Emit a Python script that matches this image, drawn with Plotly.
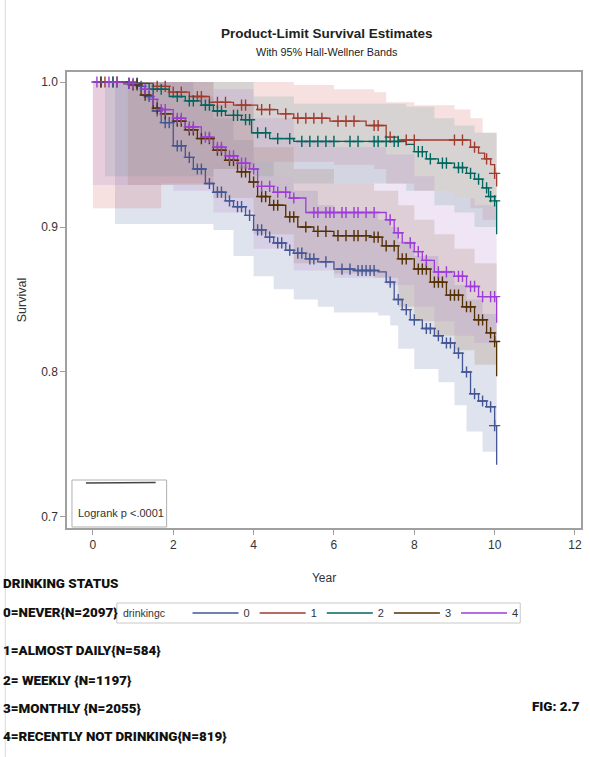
import numpy as np
import plotly.graph_objects as go

# ---------------- data ----------------
groups = ["0", "1", "2", "3", "4"]
line_colors = ["#445694", "#A23A2E", "#01665E", "#543005", "#9D3CDB"]
band_colors = ["rgba(111,126,179,0.22)", "rgba(208,91,91,0.19)", "rgba(102,165,160,0.22)",
               "rgba(169,134,91,0.24)", "rgba(182,137,205,0.22)"]

t0 = [0, 1.1, 1.3, 1.5, 1.7, 2.0, 2.3, 2.5, 2.8, 3.0, 3.3, 3.5, 3.8, 4.0, 4.3, 4.5, 4.8, 5.0, 5.3, 5.6, 6.0,
      6.5, 7.1, 7.3, 7.5, 7.7, 7.9, 8.2, 8.5, 8.7, 9.0, 9.2, 9.4, 9.6, 9.8, 10.0, 10.05]
s0 = [1.0, 0.997, 0.99, 0.98, 0.972, 0.956, 0.948, 0.940, 0.930, 0.924, 0.918, 0.914, 0.908, 0.898, 0.893,
      0.889, 0.884, 0.882, 0.878, 0.876, 0.871, 0.870, 0.869, 0.862, 0.850, 0.843, 0.836, 0.830, 0.825, 0.820,
      0.813, 0.800, 0.785, 0.780, 0.776, 0.763, 0.736]
t1 = [0, 0.8, 1.5, 1.9, 2.4, 2.9, 3.5, 4.1, 4.6, 5.0, 5.9, 6.8, 7.3, 7.6, 9.4, 9.6, 9.75, 9.9, 10.0, 10.05]
s1 = [1.0, 0.999, 0.997, 0.993, 0.99, 0.986, 0.984, 0.981, 0.978, 0.975, 0.973, 0.970, 0.962, 0.960, 0.955,
      0.951, 0.947, 0.943, 0.937, 0.928]
t2 = [0, 0.8, 1.4, 1.9, 2.3, 2.7, 3.0, 3.3, 3.7, 3.95, 4.4, 5.0, 7.8, 8.0, 8.3, 8.6, 9.0, 9.3, 9.5, 9.7, 9.85,
      10.0, 10.05]
s2 = [1.0, 0.999, 0.995, 0.990, 0.987, 0.984, 0.980, 0.977, 0.974, 0.965, 0.961, 0.959, 0.957, 0.952, 0.947,
      0.944, 0.941, 0.937, 0.933, 0.927, 0.921, 0.918, 0.895]
t3 = [0, 0.9, 1.2, 1.5, 1.7, 2.0, 2.3, 2.6, 3.0, 3.3, 3.6, 3.9, 4.1, 4.4, 4.8, 5.1, 5.5, 6.0, 6.9, 7.2, 7.6,
      8.0, 8.4, 8.8, 9.2, 9.5, 9.8, 10.0, 10.05]
s3 = [1.0, 0.998, 0.991, 0.982, 0.978, 0.973, 0.967, 0.961, 0.953, 0.946, 0.938, 0.931, 0.921, 0.915, 0.907,
      0.900, 0.897, 0.894, 0.893, 0.887, 0.878, 0.871, 0.862, 0.853, 0.845, 0.836, 0.827, 0.821, 0.797]
t4 = [0, 0.8, 1.2, 1.4, 1.6, 2.0, 2.3, 2.7, 3.0, 3.3, 3.6, 3.9, 4.1, 4.5, 4.9, 5.3, 7.3, 7.5, 7.7, 8.0, 8.2,
      8.5, 9.0, 9.3, 9.6, 10.05]
s4 = [1.0, 0.999, 0.995, 0.988, 0.981, 0.975, 0.969, 0.962, 0.955, 0.949, 0.944, 0.940, 0.928, 0.924, 0.920,
      0.910, 0.905, 0.896, 0.889, 0.883, 0.877, 0.869, 0.866, 0.859, 0.852, 0.834]

# censored observation times
c0 = [1.2, 1.4, 1.6, 1.8, 1.9, 2.1, 2.2, 2.4, 2.6, 2.7, 2.9, 3.1, 3.2, 3.4, 3.6, 3.7, 3.9, 4.1, 4.2, 4.4, 4.6,
      4.7, 4.9, 5.1, 5.2, 5.4, 5.5, 5.8, 6.2, 6.4, 6.6, 6.7, 6.8, 6.9, 7.0, 7.4, 7.6, 7.8, 8.0, 8.3, 8.4, 8.6,
      8.8, 8.9, 9.1, 9.3, 9.5, 9.7, 9.9, 10.0]
c1 = [0.3, 0.5, 0.9, 1.1, 1.6, 1.8, 2.0, 2.2, 2.6, 2.7, 3.1, 3.3, 3.7, 3.8, 4.2, 4.4, 4.8, 5.1, 5.3, 5.5, 5.7,
      6.1, 6.3, 6.5, 7.0, 7.1, 7.4, 7.8, 8.0, 9.0, 9.2, 9.5, 9.8, 10.0]
c2 = [0.2, 0.5, 0.9, 1.1, 1.5, 1.7, 2.1, 2.4, 2.5, 2.8, 2.9, 3.1, 3.2, 3.5, 3.6, 3.8, 3.9, 4.1, 4.3, 4.6, 4.9,
      5.2, 5.4, 5.6, 5.8, 6.0, 6.4, 6.6, 7.0, 7.1, 7.3, 7.5, 7.6, 8.1, 8.2, 8.4, 8.7, 8.8, 9.1, 9.2, 9.4, 9.6,
      9.8, 9.9, 10.0]
c3 = [0.2, 0.6, 1.0, 1.1, 1.3, 1.6, 1.8, 2.1, 2.2, 2.4, 2.5, 2.7, 2.9, 3.1, 3.2, 3.4, 3.5, 3.7, 3.8, 4.0, 4.2,
      4.3, 4.5, 4.6, 4.9, 5.0, 5.3, 5.6, 5.8, 6.1, 6.3, 6.5, 6.6, 6.8, 7.0, 7.1, 7.3, 7.5, 7.7, 7.8, 8.1, 8.2,
      8.3, 8.5, 8.6, 8.7, 8.9, 9.0, 9.1, 9.3, 9.4, 9.6, 9.7, 9.9, 10.0]
c4 = [0.1, 0.4, 0.6, 0.9, 1.0, 1.3, 1.5, 1.7, 1.8, 2.1, 2.2, 2.4, 2.5, 2.8, 2.9, 3.1, 3.2, 3.4, 3.5, 3.7, 3.8,
      4.0, 4.2, 4.4, 4.6, 4.8, 5.0, 5.5, 5.6, 5.8, 5.9, 6.0, 6.2, 6.3, 6.5, 6.6, 6.8, 7.0, 7.4, 7.6, 7.9, 8.1,
      8.3, 8.6, 8.8, 9.1, 9.2, 9.4, 9.5, 9.7, 9.9, 10.0]

# Hall-Wellner band times / lower / upper
bt0 = [0.55, 1.5, 2.0, 2.5, 3.0, 3.5, 4.0, 4.5, 5.0, 5.6, 6.0, 7.1, 7.4, 7.6, 8.0, 8.6, 9.0, 9.3, 9.7, 10.05]
lo0 = [0.902, 0.902, 0.902, 0.902, 0.898, 0.880, 0.866, 0.857, 0.850, 0.845, 0.841, 0.839, 0.832, 0.816, 0.802,
       0.793, 0.777, 0.759, 0.745, 0.726]
hi0 = [1.0, 1.0, 1.0, 0.99, 0.975, 0.96, 0.945, 0.935, 0.925, 0.915, 0.91, 0.905, 0.9, 0.89, 0.88, 0.87, 0.86,
       0.85, 0.84, 0.83]
bt1 = [0.0, 1.7, 3.0, 4.0, 5.0, 6.0, 7.0, 7.3, 8.0, 9.0, 9.4, 9.7, 10.05]
lo1 = [0.913, 0.93, 0.94, 0.945, 0.945, 0.943, 0.94, 0.93, 0.925, 0.92, 0.913, 0.905, 0.895]
hi1 = [1.0, 1.0, 1.0, 1.0, 0.998, 0.995, 0.993, 0.986, 0.984, 0.981, 0.975, 0.965, 0.955]
bt2 = [0.3, 1.5, 3.0, 4.0, 5.0, 7.8, 8.5, 9.0, 9.5, 10.05]
lo2 = [0.935, 0.935, 0.94, 0.935, 0.93, 0.925, 0.915, 0.91, 0.9, 0.885]
hi2 = [1.0, 1.0, 1.0, 0.99, 0.985, 0.983, 0.975, 0.97, 0.965, 0.955]
bt3 = [0.87, 1.5, 2.0, 3.0, 4.0, 5.0, 6.0, 7.0, 7.6, 8.0, 8.5, 9.0, 9.5, 10.05]
lo3 = [0.929, 0.929, 0.929, 0.92, 0.895, 0.875, 0.868, 0.865, 0.845, 0.835, 0.825, 0.815, 0.805, 0.795]
hi3 = [1.0, 1.0, 1.0, 0.985, 0.955, 0.94, 0.93, 0.925, 0.915, 0.905, 0.895, 0.885, 0.875, 0.855]
bt4 = [0.0, 1.5, 2.0, 3.0, 4.0, 5.0, 6.0, 7.3, 8.0, 8.5, 9.0, 9.5, 10.05]
lo4 = [0.929, 0.929, 0.925, 0.91, 0.885, 0.87, 0.865, 0.86, 0.845, 0.835, 0.825, 0.82, 0.81]
hi4 = [1.0, 1.0, 1.0, 0.995, 0.975, 0.96, 0.955, 0.95, 0.935, 0.925, 0.92, 0.915, 0.905]

x_ticks = [0, 2, 4, 6, 8, 10, 12]
y_ticks = [0.7, 0.8, 0.9, 1.0]

legend_notes = ["DRINKING STATUS", "0=NEVER{N=2097}", "1=ALMOST DAILY{N=584}", "2= WEEKLY {N=1197}",
                "3=MONTHLY {N=2055}", "4=RECENTLY NOT DRINKING{N=819}"]

T = [t0, t1, t2, t3, t4]
S = [s0, s1, s2, s3, s4]
C = [c0, c1, c2, c3, c4]
BT = [bt0, bt1, bt2, bt3, bt4]
LO = [lo0, lo1, lo2, lo3, lo4]
HI = [hi0, hi1, hi2, hi3, hi4]

# ---------------- figure ----------------
W, H = 590, 757
L, R, TOP, BOT = 67, 583, 72, 528


def px(x):
    return (x - L) / (R - L)


def py(y):
    return (BOT - y) / (BOT - TOP)


fig = go.Figure()

for i in range(5):
    fig.add_trace(go.Scatter(x=BT[i], y=LO[i], mode="lines", line=dict(width=0, shape="hv"),
                             showlegend=False, hoverinfo="skip"))
    fig.add_trace(go.Scatter(x=BT[i], y=HI[i], mode="lines", line=dict(width=0, shape="hv"),
                             fill="tonexty", fillcolor=band_colors[i], showlegend=False, hoverinfo="skip"))

for i in range(5):
    fig.add_trace(go.Scatter(x=T[i], y=S[i], mode="lines", name=groups[i],
                             line=dict(color=line_colors[i], width=1.3, shape="hv")))

for i in range(5):
    tt = np.array(T[i])
    ss = np.array(S[i])
    idx = np.searchsorted(tt, np.array(C[i]), side="right") - 1
    fig.add_trace(go.Scatter(x=C[i], y=ss[idx], mode="markers", showlegend=False,
                             marker=dict(symbol="cross-thin", size=8,
                                         line=dict(width=1.4, color=line_colors[i]))))

axis_common = dict(showline=True, linecolor="#a0a0a0", linewidth=1.5, mirror=True, ticks="outside",
                   ticklen=5, tickcolor="#a0a0a0", tickwidth=1, showgrid=False, zeroline=False,
                   tickfont=dict(family="Liberation Sans, Arial", size=12, color="#333333"))

fig.update_xaxes(range=[-0.645, 12.15], tickvals=x_ticks, ticktext=[str(v) for v in x_ticks],
                 title=dict(text="Year", font=dict(family="Liberation Sans, Arial", size=12, color="#333333"),
                            standoff=22), **axis_common)
fig.update_yaxes(range=[0.6924, 1.0069], tickvals=y_ticks, ticktext=[f"{v:.1f}" for v in y_ticks],
                 title=dict(text="Survival", font=dict(family="Liberation Sans, Arial", size=12.5, color="#333333"),
                            standoff=12), **axis_common)

note_font = dict(family="Roboto, Liberation Sans, Arial", size=13.4, color="#111111", weight=900)
ann = []


def add_text(text, x, y, font, xanchor="center"):
    ann.append(dict(text=text, x=px(x), y=py(y), xref="paper", yref="paper", xanchor=xanchor,
                    yanchor="middle", showarrow=False, font=font))


add_text("<b>Product-Limit Survival Estimates</b>", 328, 33,
         dict(family="Liberation Sans, Arial", size=13.5, color="#222222"))
add_text("With 95% Hall-Wellner Bands", 328, 52, dict(family="Liberation Sans, Arial", size=10.8, color="#222222"))
add_text("Logrank p <.0001", 76, 513, dict(family="Liberation Sans, Arial", size=11, color="#333333"), "left")
add_text("drinkingc", 121, 613, dict(family="Liberation Sans, Arial", size=10.5, color="#333333"), "left")

note_y = [583, 612, 650, 680, 708, 736]
for txt, yy in zip(legend_notes, note_y):
    add_text(txt, 1, yy, note_font, "left")
add_text("FIG: 2.7", 584, 706, note_font, "right")

shapes = [
    dict(type="rect", xref="paper", yref="paper", x0=px(72), x1=px(167), y0=py(527), y1=py(480),
         line=dict(color="#b0b0b0", width=1), fillcolor="rgba(255,255,255,0.9)"),
    dict(type="line", xref="paper", yref="paper", x0=px(86), x1=px(156), y0=py(483), y1=py(482.5),
         line=dict(color="#444444", width=1.5)),
    dict(type="line", xref="paper", yref="paper", x0=px(5), x1=px(5), y0=py(0), y1=py(757),
         line=dict(color="#d8d8d8", width=1)),
    dict(type="rect", xref="paper", yref="paper", x0=px(117), x1=px(522), y0=py(623), y1=py(603),
         line=dict(color="#c8c8c8", width=1), fillcolor="rgba(0,0,0,0)"),
]

fig.update_layout(
    width=W, height=H, autosize=False,
    margin=dict(l=L, r=W - R, t=TOP, b=H - BOT),
    paper_bgcolor="white", plot_bgcolor="white",
    annotations=ann, shapes=shapes,
    legend=dict(orientation="h", x=px(188), y=py(613), xanchor="left", yanchor="middle",
                borderwidth=0, bgcolor="rgba(0,0,0,0)", traceorder="normal",
                font=dict(family="Liberation Sans, Arial", size=11, color="#333333"),
                itemwidth=46, tracegroupgap=0),
)

fig.write_html("out.html")
